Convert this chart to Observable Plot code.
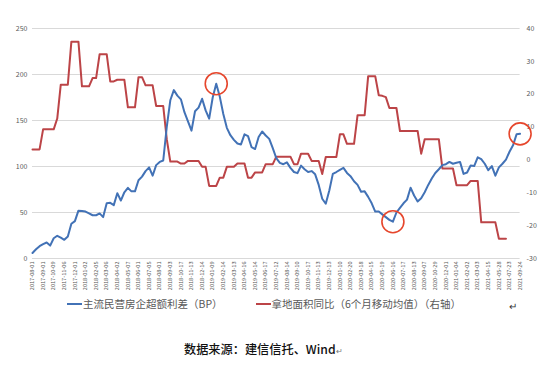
<!DOCTYPE html>
<html><head><meta charset="utf-8">
<script src="https://cdn.jsdelivr.net/npm/d3@7"></script>
<script src="https://cdn.jsdelivr.net/npm/@observablehq/plot@0.6"></script>
<style>
body{margin:0;background:#fff;font-family:"Noto Sans CJK SC","Noto Sans",sans-serif;}
#wrap{position:relative;width:550px;height:365px;overflow:hidden;background:#fff;}
#chart{position:absolute;left:0;top:0;}
#legend{position:absolute;left:67px;top:296px;height:16px;line-height:16px;font-size:10.5px;color:#595959;white-space:nowrap;display:flex;align-items:center;}
#legend .sw{display:inline-block;width:15px;height:2px;margin-right:1px;}
#legend .item{display:flex;align-items:center;}
#mark{position:absolute;left:509px;top:298px;font-size:10px;color:#333;}
#caption{position:absolute;left:184px;top:340px;font-size:12.2px;color:#111;font-weight:500;white-space:nowrap;}
#caption .pm{font-size:8px;color:#777;}
</style></head>
<body><div id="wrap"><div id="chart"></div>
<div id="legend"></div>
<div id="mark">↵</div>
<div id="caption">数据来源：建信信托、Wind<span class="pm">↵</span></div>
</div>
<script>
const dateLabels = ["2017-08-01","2017-09-01","2017-10-09","2017-11-06","2017-12-01","2018-01-02","2018-02-05","2018-03-06","2018-04-02","2018-05-07","2018-06-01","2018-07-05","2018-08-01","2018-09-03","2018-10-17","2018-11-13","2018-12-14","2019-01-09","2019-02-14","2019-03-13","2019-04-16","2019-05-14","2019-06-17","2019-07-12","2019-08-14","2019-09-10","2019-10-17","2019-11-13","2019-12-13","2020-01-10","2020-02-20","2020-03-18","2020-04-15","2020-05-19","2020-06-16","2020-07-17","2020-08-13","2020-09-07","2020-10-29","2020-12-01","2021-01-04","2021-02-02","2021-03-03","2021-04-15","2021-05-28","2021-07-23","2021-09-24"];
const samplesPerLabel = 3;
const spreadName = "主流民营房企超额利差（BP）";
const spreadValues = [6,10,13.4,15.7,17.4,14,22,24.7,22.7,20.3,
24,37.7,40.6,52,51.7,51,49,47,47,49,
45,60,60.5,58,71,63,72,76.8,73,73,
85,89,95,99,90,101.5,105,106.5,143,172,
183,177,173,159,149,139,160,164,173.6,161,
152,175,190,176,157,142,134,129,125,124,
135,133,121,119,132,138,133.7,130,120,109,
104,102.5,104.5,98.5,94,92.8,101,97,94,95,
91.5,80,65,59.5,74,92,94,96.4,98.5,93,
89.5,84,80,72.5,73,67,60,51,51,48,
45,42,40,50,55,60,64,77,68.5,62,
65.5,72,80,87,93,97,101.5,102.5,105,103,
104,105,92,93.5,101,100.5,110,108,103,96,
100.5,90,99,103,107.5,116,123,135,135.5];
const landName = "拿地面积同比（6个月移动均值）（右轴）";
const landValues = [3.2,3.2,3.2,9.3,9.3,9.3,9.3,12.6,22.9,22.9,
22.9,36,36,36,22.4,22.4,22.4,24.9,24.9,32.2,
32.2,32.2,23.9,23.9,24.4,24.4,24.4,16,16,16,
25.2,25.2,22.7,22.7,22.7,16.4,16.4,16.4,6.3,-0.5,
-0.5,-0.5,-1.1,-1.1,-0.3,-0.3,-0.3,-0.3,-2.1,-2.1,
-7.9,-7.9,-7.9,-5.4,-5.4,-2.1,-2.1,-2.1,-1.1,-1.1,
-1.1,-5.4,-5.4,-3.8,-3.8,-3.8,-1.3,-1.3,-1.3,1.0,
1.0,1.0,1.0,1.0,-1.3,-1.3,1.9,1.9,1.9,-0.3,
-0.3,-0.3,-4.3,0.9,0.9,0.9,0.9,7.8,7.8,4.9,
4.9,4.9,13.6,13.6,13.6,25.5,25.5,25.5,19.7,19.5,
19.1,15.8,15.8,15.8,8.8,8.8,8.8,8.8,8.8,8.8,
1.9,6.3,6.3,6.3,6.3,6.3,-2.6,-2.6,-2.6,-2.6,
-7.7,-7.7,-7.7,-7.7,-6.4,-6.4,-6.4,-19,-19,-19,
-19,-19,-24,-24,-24];
const leftTicks = [0,50,100,150,200,250];
const rightTicks = [-30,-20,-10,0,10,20,30,40];
const highlightIdx = [52,102,138];

const blueColor = "#4272b6", redColor = "#bc4447", circleColor = "#e6462c";
const leftMin = 0, leftMax = 250, rightMin = -30, rightMax = 40;
const toLeft = v => (v - rightMin) * (leftMax - leftMin) / (rightMax - rightMin) + leftMin;
const toRight = v => (v - leftMin) * (rightMax - rightMin) / (leftMax - leftMin) + rightMin;

const blue = spreadValues.map((v, k) => ({pos: k / samplesPerLabel, value: v}));
const red = landValues.map((v, k) => ({pos: k / samplesPerLabel, value: toLeft(v)}));

const chart = Plot.plot({
  width: 550, height: 296,
  marginLeft: 32, marginRight: 30.4, marginTop: 28, marginBottom: 38,
  x: {domain: [0, dateLabels.length - 1]},
  y: {domain: [leftMin, leftMax]},
  style: {fontFamily: "'Noto Sans CJK SC','Noto Sans',sans-serif", color: "#595959", background: "white"},
  marks: [
    Plot.gridY(leftTicks, {stroke: "#d9d9d9", strokeOpacity: 1, strokeWidth: 1}),
    Plot.axisY(leftTicks, {anchor: "left", tickSize: 0, tickPadding: 5, fontSize: 7, label: null}),
    Plot.axisY(rightTicks.map(toLeft), {anchor: "right", tickSize: 0, tickPadding: 6.5, fontSize: 7, label: null, tickFormat: d => String(Math.round(toRight(d)))}),
    Plot.axisX(d3.range(dateLabels.length), {anchor: "bottom", tickRotate: -90, tickSize: 0, tickPadding: 3, fontSize: 5.6, label: null, tickFormat: i => dateLabels[i]}),
    Plot.line(red, {x: "pos", y: "value", stroke: redColor, strokeWidth: 2}),
    Plot.line(blue, {x: "pos", y: "value", stroke: blueColor, strokeWidth: 2}),
    Plot.dot(highlightIdx.map(k => blue[k]), {x: "pos", y: "value", r: 11, stroke: circleColor, strokeWidth: 1.6, fill: "none"})
  ]
});
document.getElementById("chart").appendChild(chart);

const legend = document.getElementById("legend");
[[spreadName, blueColor], [landName, redColor]].forEach(([name, color], i) => {
  const item = document.createElement("span");
  item.className = "item";
  if (i > 0) item.style.marginLeft = "33px";
  const sw = document.createElement("span");
  sw.className = "sw"; sw.style.background = color;
  const t = document.createElement("span");
  t.textContent = name;
  item.appendChild(sw); item.appendChild(t);
  legend.appendChild(item);
});
</script>
</body></html>
